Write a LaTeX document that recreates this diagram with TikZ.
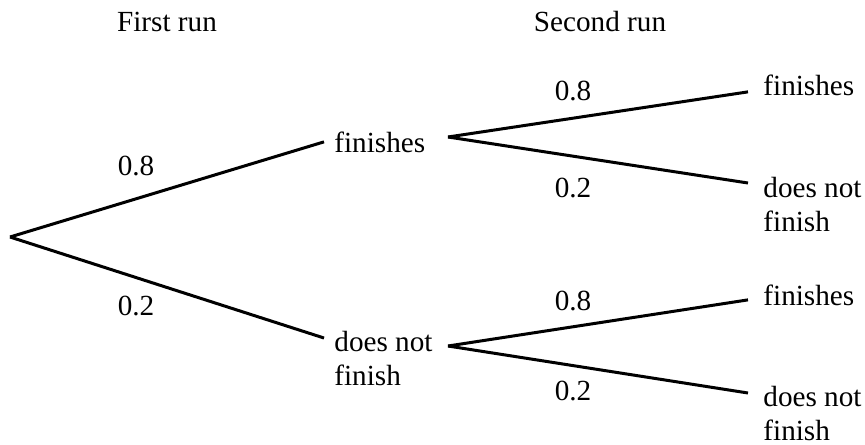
\documentclass[tikz,border=0pt]{standalone}
\usepackage{fontspec}
\setmainfont{Liberation Serif}
\tikzset{
  txt/.style={font=\fontsize{14.6}{16.9}\selectfont, inner sep=0pt, align=left},
  branch/.style={line width=1.5pt}
}
\begin{document}
\begin{tikzpicture}[x=0.5pt, y=-0.5pt]
\useasboundingbox (0,0) rectangle (865,444);

% headings
\node[txt, anchor=base] (hd1) at (167,32) {First run};
\node[txt, anchor=base] (hd2) at (600,32) {Second run};

% first run
\coordinate (root) at (10,237);
\node[txt, anchor=base west] (fin) at (334,152) {finishes};
\node[txt, anchor=north west] (dnf) at (334,331) {does not\\finish};
\draw[branch] (root) -- ([xshift=-5pt]fin.west);
\draw[branch] (root) -- ([xshift=-5pt, yshift=-3.5pt]dnf.north west);
\node[txt, anchor=base] (p1) at (136,175) {0.8};
\node[txt, anchor=base] (p2) at (136,315) {0.2};

% second run, after finishes
\coordinate (fork1) at (448,137);
\node[txt, anchor=base west] (ff) at (763,96) {finishes};
\node[txt, anchor=north west] (fd) at (763,177) {does not\\finish};
\draw[branch] (fork1) -- ([xshift=-7.5pt, yshift=-3pt]ff.west);
\draw[branch] (fork1) -- ([xshift=-7.5pt, yshift=-3pt]fd.north west);
\node[txt, anchor=base] (p3) at (573,100) {0.8};
\node[txt, anchor=base] (p4) at (573,197) {0.2};

% second run, after does not finish
\coordinate (fork2) at (448,346);
\node[txt, anchor=base west] (df) at (763,305) {finishes};
\node[txt, anchor=north west] (dd) at (763,386) {does not\\finish};
\draw[branch] (fork2) -- ([xshift=-7.5pt, yshift=-2.5pt]df.west);
\draw[branch] (fork2) -- ([xshift=-7.5pt, yshift=-3.5pt]dd.north west);
\node[txt, anchor=base] (p5) at (573,310) {0.8};
\node[txt, anchor=base] (p6) at (573,400) {0.2};

\end{tikzpicture}
\end{document}
